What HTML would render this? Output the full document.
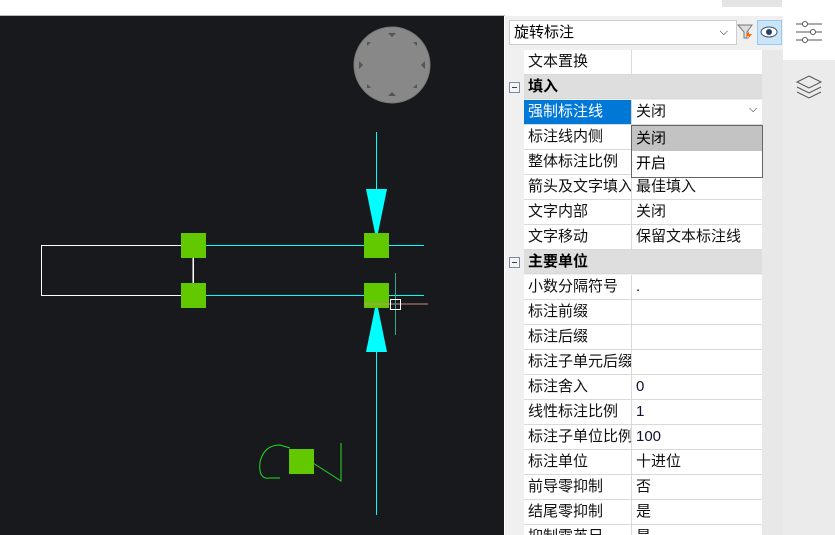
<!DOCTYPE html>
<html style="overflow:hidden;height:535px"><head><meta charset="utf-8"><style>
body{margin:0;width:835px;height:535px;overflow:hidden;background:#fff;font-family:"Liberation Sans","Noto Sans CJK SC",sans-serif;font-size:15px;position:relative}
.a{position:absolute}
.r{position:absolute;left:524px;width:238px;height:24px;border-bottom:1px solid #d9d9d9;background:#fff}
.r .n{position:absolute;left:0;height:24px;line-height:24px;padding-left:4px;border-right:1px solid #d9d9d9;white-space:nowrap;overflow:hidden;box-sizing:border-box;width:108px;color:#111}
.r .v{position:absolute;left:108px;height:24px;line-height:24px;padding-left:4px;color:#111}
.c{position:absolute;left:524px;width:238px;height:24px;background:#dedede;border-bottom:1px solid #d9d9d9;font-weight:bold;line-height:24px;padding-left:4px;box-sizing:border-box}
.m{position:absolute;left:509px;width:9px;height:9px;border:1px solid #7a8ba6;background:#f4f4f4}
.m:after{content:"";position:absolute;left:2px;top:4px;width:5px;height:1px;background:#345}
</style></head><body>
<div class="a" style="left:0;top:15px;width:505px;height:1px;background:#bbb"></div>
<div class="a" style="left:722px;top:0;width:60px;height:7px;background:#e4e4e4"></div>
<div class="a" style="left:0;top:16px;width:504px;height:519px;background:#18191d"></div>
<svg class="a" style="left:0;top:0" width="505" height="535">
<circle cx="392" cy="65" r="38" fill="#888" stroke="#777"/>
<g fill="#555"><polygon points="388,33 396,33 392,37"/><polygon points="388,96 396,96 392,92"/><polygon points="359,61 359,69 363,65"/><polygon points="425,61 425,69 421,65"/>
<polygon points="367,42 371,42 367,46"/><polygon points="417,42 413,42 417,46"/><polygon points="367,88 371,88 367,84"/><polygon points="417,88 413,88 417,84"/></g>
<rect x="41.5" y="245.5" width="152" height="50" fill="none" stroke="#fff"/>
<line x1="193" y1="250" x2="193" y2="295" stroke="#fff"/>
<line x1="193" y1="245.5" x2="424" y2="245.5" stroke="#0ff"/>
<line x1="193" y1="295.5" x2="424" y2="295.5" stroke="#0ff"/>
<line x1="376.5" y1="132" x2="376.5" y2="190" stroke="#0ff"/>
<line x1="376.5" y1="350" x2="376.5" y2="515" stroke="#0ff"/>
<polygon points="366,189 387,189 378,233 375,233" fill="#0ff"/>
<polygon points="366,352 387,352 378,308 375,308" fill="#0ff"/>
<rect x="181" y="233" width="25" height="25" fill="#62c800"/>
<rect x="181" y="283" width="25" height="25" fill="#62c800"/>
<rect x="364" y="233" width="25" height="25" fill="#62c800"/>
<rect x="364" y="283" width="25" height="25" fill="#62c800"/>
<line x1="364" y1="304" x2="428" y2="304" stroke="#c88"/>
<line x1="395.5" y1="273" x2="395.5" y2="335" stroke="#3a8"/>
<rect x="390.5" y="299.5" width="10" height="10" fill="none" stroke="#fff"/>
<path d="M280 478 L270 478 Q258 480 260 462 Q264 445 280 445 L290 448" fill="none" stroke="#2d2"/>
<polyline points="313,463 341,481 341,443" fill="none" stroke="#2d2"/>
<rect x="289" y="449" width="25" height="25" fill="#62c800"/>
</svg>
<div class="a" style="left:505px;top:16px;width:278px;height:519px;background:#f0f0f0"></div>
<div class="a" style="left:783px;top:16px;width:52px;height:519px;background:#ebebeb"></div>
<div class="a" style="left:783px;top:8px;width:52px;height:52px;background:#fff"></div>
<svg class="a" style="left:783px;top:8px" width="52" height="100">
<g stroke="#555" fill="#fff"><line x1="13" y1="16" x2="39" y2="16"/><line x1="13" y1="24" x2="39" y2="24"/><line x1="13" y1="32" x2="39" y2="32"/><circle cx="22" cy="16" r="2.5"/><circle cx="30" cy="24" r="2.5"/><circle cx="22" cy="32" r="2.5"/>
<path d="M26 68 L38 74 L26 80 L14 74 Z" fill="none"/><path d="M14 79 L26 85 L38 79 M14 84 L26 90 L38 84" fill="none"/></g></svg>
<div class="a" style="left:509px;top:20px;width:222px;height:23px;background:#fff;border:1px solid #ccc;line-height:23px;padding-left:4px;box-sizing:content-box">旋转标注<span style="position:absolute;right:8px;top:0;font-size:11px">⌵</span></div>
<svg class="a" style="left:736px;top:22px" width="20" height="20"><path d="M2 3 L16 3 L11 10 L11 16 L8 16 L8 10 Z" fill="#ddd" stroke="#777"/><path d="M13 9 L10 14 L13 14 L11 18 L16 12 L13 12 Z" fill="#f60"/></svg>
<div class="a" style="left:757px;top:20px;width:23px;height:23px;background:#cce4f7;border:1px solid #99c9ef"></div>
<svg class="a" style="left:758px;top:21px" width="22" height="22"><ellipse cx="11" cy="11" rx="8" ry="5" fill="#fff" stroke="#456"/><circle cx="11" cy="11" r="3" fill="#246"/></svg>
<div class="a" style="left:762px;top:50px;width:21px;height:485px;background:#e8e8e8"></div>

<div class="r" style="top:50px"><div class="n">文本置换</div><div class="v"></div></div>
<div class="c" style="top:75px">填入</div><div class="m" style="top:82px"></div>
<div class="r" style="top:100px"><div class="n" style="background:#0078d7;color:#fff">强制标注线</div><div class="v">关闭</div><span class="a" style="left:225px;top:3px;font-size:11px">⌵</span></div>
<div class="r" style="top:125px"><div class="n">标注线内侧</div></div>
<div class="r" style="top:150px"><div class="n">整体标注比例</div></div>
<div class="r" style="top:175px"><div class="n">箭头及文字填入</div><div class="v">最佳填入</div></div>
<div class="r" style="top:200px"><div class="n">文字内部</div><div class="v">关闭</div></div>
<div class="r" style="top:225px"><div class="n">文字移动</div><div class="v">保留文本标注线</div></div>
<div class="c" style="top:250px">主要单位</div><div class="m" style="top:257px"></div>
<div class="r" style="top:275px"><div class="n">小数分隔符号</div><div class="v">.</div></div>
<div class="r" style="top:300px"><div class="n">标注前缀</div></div>
<div class="r" style="top:325px"><div class="n">标注后缀</div></div>
<div class="r" style="top:350px"><div class="n">标注子单元后缀</div></div>
<div class="r" style="top:375px"><div class="n">标注舍入</div><div class="v" style="color:#113">0</div></div>
<div class="r" style="top:400px"><div class="n">线性标注比例</div><div class="v" style="color:#113">1</div></div>
<div class="r" style="top:425px"><div class="n">标注子单位比例</div><div class="v" style="color:#113">100</div></div>
<div class="r" style="top:450px"><div class="n">标注单位</div><div class="v">十进位</div></div>
<div class="r" style="top:475px"><div class="n">前导零抑制</div><div class="v">否</div></div>
<div class="r" style="top:500px"><div class="n">结尾零抑制</div><div class="v">是</div></div>
<div class="r" style="top:525px;height:10px;overflow:hidden"><div class="n">抑制零英尺</div><div class="v">是</div></div>

<div class="a" style="left:631px;top:125px;width:130px;height:51px;background:#fff;border:1px solid #646464">
<div style="height:25px;background:#c3c3c3;line-height:25px;padding-left:4px">关闭</div>
<div style="height:25px;line-height:25px;padding-left:4px">开启</div></div>
</body></html>
